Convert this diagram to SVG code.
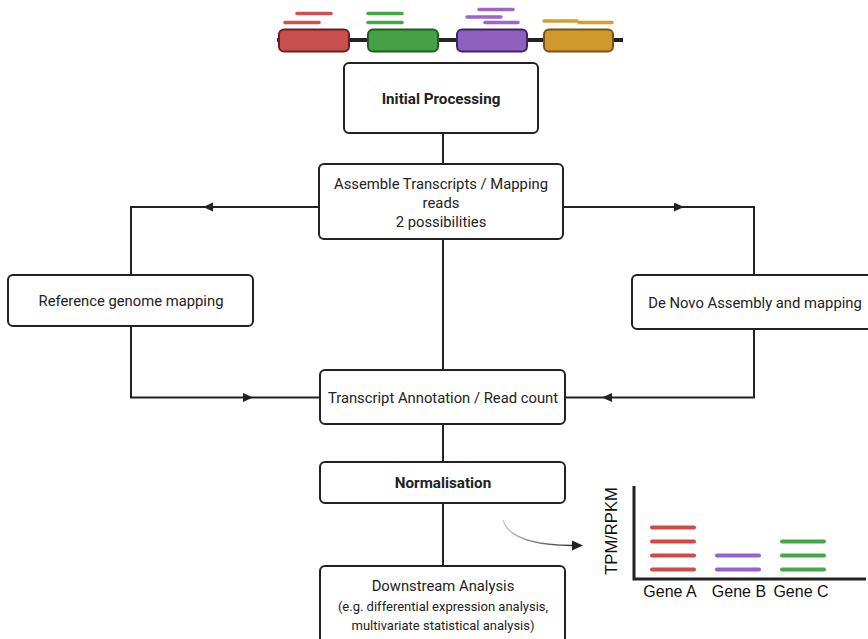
<svg xmlns="http://www.w3.org/2000/svg" width="868" height="639" viewBox="0 0 868 639">
<defs>
<style>
.box{fill:#fff;stroke:#222;stroke-width:2}
.t{font-family:Roboto,"Liberation Sans",sans-serif;font-size:14.8px;fill:#222;text-anchor:middle}
.b{font-weight:bold;font-size:15.2px}
.s{font-size:13px}
.ln{fill:none;stroke:#222;stroke-width:2}
.rd{stroke-width:3.5;stroke-linecap:round;fill:none}
.bar{stroke-width:4;stroke-linecap:round;fill:none}
.lbl{font-family:"Liberation Sans",Arial,sans-serif;font-size:16px;fill:#111;text-anchor:middle}
</style>
<marker id="ah" markerUnits="userSpaceOnUse" markerWidth="11" markerHeight="10" refX="10" refY="4.5" orient="auto">
<path d="M0,0 L10,4.5 L0,9 z" fill="#222"/>
</marker>
<linearGradient id="cg" x1="503" y1="520" x2="580" y2="545" gradientUnits="userSpaceOnUse">
<stop offset="0" stop-color="#ccc"/>
<stop offset="1" stop-color="#222"/>
</linearGradient>
</defs>

<g id="genes">
<line x1="277" y1="40" x2="623" y2="40" stroke="#222" stroke-width="4"/>
<rect x="279" y="29.5" width="70" height="22" rx="5" fill="#c94f4f" stroke="#6e1e1e" stroke-width="2"/>
<rect x="368" y="29.5" width="70" height="22" rx="5" fill="#45a045" stroke="#245a24" stroke-width="2"/>
<rect x="457" y="29.5" width="70" height="22" rx="5" fill="#8f60bf" stroke="#3e2460" stroke-width="2"/>
<rect x="544" y="29.5" width="69" height="22" rx="5" fill="#d09a2a" stroke="#7a5218" stroke-width="2"/>
<g stroke="#d05050" class="rd"><line x1="297" y1="13.5" x2="331" y2="13.5"/><line x1="285" y1="22.5" x2="319" y2="22.5"/></g>
<g stroke="#45a845" class="rd"><line x1="368" y1="13.5" x2="402" y2="13.5"/><line x1="368" y1="22.5" x2="402" y2="22.5"/></g>
<g stroke="#9a66cc" class="rd"><line x1="479" y1="9.5" x2="513" y2="9.5"/><line x1="467" y1="17" x2="501" y2="17"/><line x1="485" y1="22.5" x2="518" y2="22.5"/></g>
<g stroke="#d4a02a" class="rd"><line x1="544" y1="21" x2="577" y2="21"/><line x1="579" y1="22.5" x2="612" y2="22.5"/></g>
</g>

<g id="connectors">
<path class="ln" d="M443,133 V164"/>
<path class="ln" d="M443,239 V370"/>
<path class="ln" d="M319,207 H203" marker-end="url(#ah)"/>
<path class="ln" d="M203,207 H131 V275"/>
<path class="ln" d="M563,207 H684" marker-end="url(#ah)"/>
<path class="ln" d="M684,207 H754 V275"/>
<path class="ln" d="M131,326 V397.5 H253" marker-end="url(#ah)"/>
<path class="ln" d="M253,397.5 H320"/>
<path class="ln" d="M754,329 V397.5 H602" marker-end="url(#ah)"/>
<path class="ln" d="M602,397.5 H565"/>
<path class="ln" d="M443,424 V462"/>
<path class="ln" d="M443,503 V566"/>
<path d="M503,520 C508,538 535,545 572,545.5" fill="none" stroke="url(#cg)" stroke-width="1.3"/>
<path d="M572,540.5 L583,545.5 L572,550.5 z" fill="#222"/>
</g>

<g id="initial">
<rect class="box" x="344" y="63" width="194" height="70" rx="5"/>
<text class="t b" x="441" y="104">Initial Processing</text>
</g>

<g id="assemble">
<rect class="box" x="319" y="164" width="244" height="75" rx="5"/>
<text class="t" x="441" y="188.5">Assemble Transcripts / Mapping</text>
<text class="t" x="441" y="207.5">reads</text>
<text class="t" x="441" y="227">2 possibilities</text>
</g>

<g id="reference">
<rect class="box" x="8" y="275" width="245" height="51" rx="5"/>
<text class="t" x="131" y="306">Reference genome mapping</text>
</g>

<g id="denovo">
<rect class="box" x="632" y="275" width="250" height="54" rx="5"/>
<text class="t" x="755" y="308">De Novo Assembly and mapping</text>
</g>

<g id="transcript">
<rect class="box" x="320" y="370" width="245" height="54" rx="5"/>
<text class="t" x="443" y="403">Transcript Annotation / Read count</text>
</g>

<g id="normalisation">
<rect class="box" x="320" y="462" width="245" height="41" rx="5"/>
<text class="t b" x="443" y="487.5">Normalisation</text>
</g>

<g id="downstream">
<rect class="box" x="320" y="566" width="245" height="90" rx="5"/>
<text class="t" x="443" y="590.5">Downstream Analysis</text>
<text class="t s" x="443" y="610.5">(e.g. differential expression analysis,</text>
<text class="t s" x="443" y="630">multivariate statistical analysis)</text>
</g>

<g id="chart">
<path d="M634,486 V579 H866" fill="none" stroke="#222" stroke-width="3"/>
<g stroke="#d04a4a" class="bar"><line x1="652" y1="527.5" x2="694" y2="527.5"/><line x1="652" y1="541.5" x2="694" y2="541.5"/><line x1="652" y1="555.5" x2="694" y2="555.5"/><line x1="652" y1="569.5" x2="694" y2="569.5"/></g>
<g stroke="#9a60cc" class="bar"><line x1="717" y1="555.5" x2="759" y2="555.5"/><line x1="717" y1="569.5" x2="759" y2="569.5"/></g>
<g stroke="#45a845" class="bar"><line x1="782" y1="541.5" x2="824" y2="541.5"/><line x1="782" y1="555.5" x2="824" y2="555.5"/><line x1="782" y1="569.5" x2="824" y2="569.5"/></g>
<text class="lbl" x="670" y="597">Gene A</text>
<text class="lbl" x="739" y="597">Gene B</text>
<text class="lbl" x="801" y="597">Gene C</text>
<text class="lbl" style="font-size:16.6px" transform="translate(617,531) rotate(-90)">TPM/RPKM</text>
</g>
</svg>
